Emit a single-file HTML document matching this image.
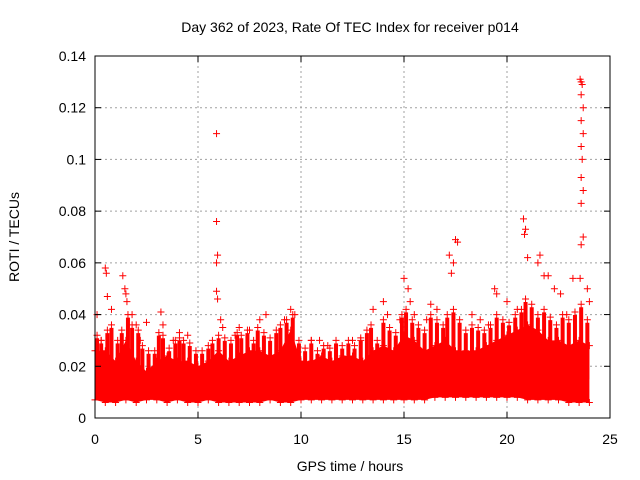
<!DOCTYPE html>
<html><head><meta charset="utf-8"><style>
body{margin:0;background:#fff}
svg{display:block;font-family:"Liberation Sans",sans-serif}
</style></head><body>
<svg id="chart" width="640" height="480" viewBox="0 0 640 480">
<text x="350" y="32" font-size="14" text-anchor="middle" fill="#000">Day 362 of 2023, Rate Of TEC Index for receiver p014</text>
<g id="grid"></g>
<g id="band"></g>
<g id="pts"></g>
<rect x="95" y="56" width="515" height="362" fill="none" stroke="#000" stroke-width="1"/>
<g id="axes"></g>
<text x="350" y="471" font-size="14" text-anchor="middle">GPS time / hours</text>
<text x="19" y="237" font-size="14" text-anchor="middle" transform="rotate(-90 19 237)">ROTI / TECUs</text>
</svg>
<script>
const xTicks=[0,5,10,15,20,25];
const yTicks=[0,0.02,0.04,0.06,0.08,0.1,0.12,0.14];
const yTickLabels=["0","0.02","0.04","0.06","0.08","0.1","0.12","0.14"];
const bandTimes=[0,0.5,1,1.5,2,2.5,3,3.5,4,4.5,5,5.5,6,6.5,7,7.5,8,8.5,9,9.5,10,10.5,11,11.5,12,12.5,13,13.5,14,14.5,15,15.5,16,16.5,17,17.5,18,18.5,19,19.5,20,20.5,21,21.5,22,22.5,23,23.5,24];
const bandLow=[0.007,0.006,0.006,0.007,0.006,0.007,0.007,0.006,0.007,0.006,0.006,0.007,0.006,0.006,0.006,0.006,0.006,0.007,0.006,0.006,0.007,0.007,0.007,0.007,0.007,0.007,0.007,0.007,0.007,0.007,0.007,0.007,0.007,0.008,0.008,0.008,0.008,0.008,0.008,0.008,0.008,0.008,0.007,0.007,0.007,0.007,0.006,0.006,0.006];
const bandHigh=[0.026,0.026,0.022,0.03,0.022,0.018,0.022,0.024,0.022,0.022,0.02,0.022,0.026,0.022,0.024,0.026,0.026,0.024,0.026,0.034,0.022,0.022,0.024,0.022,0.024,0.024,0.022,0.026,0.028,0.026,0.032,0.03,0.026,0.028,0.03,0.026,0.026,0.026,0.028,0.03,0.032,0.034,0.036,0.034,0.03,0.03,0.028,0.03,0.028];
const midTimes=[0.1,0.3,0.6,0.8,1.1,1.3,1.6,1.8,2.1,2.3,2.6,2.9,3.1,3.3,3.6,3.9,4.1,4.3,4.6,4.9,5.2,5.5,5.7,6.0,6.3,6.6,6.9,7.1,7.4,7.7,7.9,8.2,8.5,8.8,9.0,9.3,9.6,9.9,10.2,10.5,10.8,11.1,11.4,11.7,12.0,12.3,12.6,12.9,13.2,13.4,13.7,14.0,14.3,14.6,14.9,15.1,15.4,15.7,16.0,16.3,16.6,16.9,17.1,17.4,17.7,18.0,18.3,18.6,18.9,19.2,19.5,19.8,20.1,20.4,20.7,20.9,21.2,21.5,21.8,22.1,22.4,22.7,23.0,23.3,23.6,23.9];
const midValues=[0.032,0.03,0.034,0.036,0.03,0.034,0.04,0.036,0.034,0.028,0.026,0.026,0.033,0.032,0.027,0.03,0.031,0.03,0.029,0.026,0.026,0.028,0.03,0.032,0.031,0.03,0.033,0.032,0.034,0.03,0.035,0.033,0.031,0.034,0.036,0.038,0.04,0.03,0.027,0.03,0.026,0.028,0.027,0.03,0.028,0.03,0.028,0.031,0.034,0.036,0.03,0.038,0.035,0.033,0.04,0.042,0.038,0.036,0.034,0.04,0.038,0.036,0.04,0.042,0.038,0.034,0.036,0.035,0.034,0.036,0.04,0.038,0.037,0.04,0.042,0.046,0.044,0.04,0.042,0.039,0.036,0.04,0.038,0.041,0.044,0.038];
const spikeTimes=[0.1,0.5,0.55,0.6,0.8,1.35,1.45,1.5,1.55,1.8,2.0,2.5,3.2,3.3,4.1,4.5,5.9,5.9,5.95,5.9,5.9,5.95,6.2,6.1,7,7.5,8,8.3,9.2,9.5,9.7,10.5,11.3,12.5,13.5,14,14.2,14.8,15,15.2,15.3,15.5,16.3,16.6,17.2,17.3,17.4,17.5,17.6,18.3,18.7,19.4,19.5,20,20.5,20.8,20.85,20.9,21,21.5,21.6,21.8,22,22.3,22.6,23.2,23.55,23.6,23.65,23.6,23.7,23.6,23.7,23.6,23.65,23.6,23.7,23.6,23.7,23.6,23.55,23.9,24,0.3,2.2,3.8,6.8,10.9,12.9,16.1,19.1,22.9];
const spikeValues=[0.04,0.058,0.056,0.047,0.042,0.055,0.05,0.048,0.045,0.04,0.036,0.037,0.041,0.036,0.033,0.032,0.11,0.076,0.063,0.06,0.049,0.046,0.035,0.038,0.035,0.034,0.038,0.04,0.038,0.042,0.04,0.03,0.028,0.03,0.042,0.045,0.04,0.038,0.054,0.05,0.045,0.04,0.044,0.042,0.063,0.056,0.06,0.069,0.068,0.04,0.038,0.05,0.048,0.045,0.042,0.077,0.071,0.073,0.062,0.06,0.063,0.055,0.055,0.05,0.048,0.054,0.131,0.13,0.129,0.125,0.12,0.115,0.11,0.105,0.1,0.093,0.088,0.083,0.07,0.067,0.054,0.05,0.045,0.03,0.03,0.03,0.032,0.03,0.03,0.038,0.036,0.04];
const NS="http://www.w3.org/2000/svg";
const X0=95,X1=610,Y0=418,Y1=56;
const sx=v=>X0+(v-0)/(25-0)*(X1-X0);
const sy=v=>Y0-(v-0)/(0.14-0)*(Y0-Y1);
function mk(t,a,p){const e=document.createElementNS(NS,t);for(const k in a)e.setAttribute(k,a[k]);p.appendChild(e);return e;}
const grid=document.getElementById('grid'),axes=document.getElementById('axes');
xTicks.forEach(t=>{
 if(t>0&&t<25){const l=mk('line',{x1:sx(t),x2:sx(t),y1:Y0,y2:Y1,stroke:'#a0a0a0','stroke-dasharray':'2,3'},grid);}
 const tk=mk('line',{x1:sx(t),x2:sx(t),y1:Y0,y2:Y0-6,stroke:'#000'},axes);
 const tk2=mk('line',{x1:sx(t),x2:sx(t),y1:Y1,y2:Y1+6,stroke:'#000'},axes);
 const tx=mk('text',{x:sx(t),y:Y0+26,'font-size':14,'text-anchor':'middle'},axes);tx.textContent=String(t);
});
yTicks.forEach((t,i)=>{
 if(t>0&&t<0.14){const l=mk('line',{x1:X0,x2:X1,y1:sy(t),y2:sy(t),stroke:'#a0a0a0','stroke-dasharray':'2,3'},grid);}
 const tk=mk('line',{x1:X0,x2:X0+6,y1:sy(t),y2:sy(t),stroke:'#000'},axes);
 const tk2=mk('line',{x1:X1,x2:X1-6,y1:sy(t),y2:sy(t),stroke:'#000'},axes);
 const tx=mk('text',{x:X0-9,y:sy(t)+5,'font-size':14,'text-anchor':'end'},axes);tx.textContent=yTickLabels[i];
});
const band=document.getElementById('band');
let d='M'+bandTimes.map((t,i)=>sx(t)+','+sy(bandHigh[i])).join(' L');
for(let i=bandTimes.length-1;i>=0;i--)d+=' L'+sx(bandTimes[i])+','+sy(bandLow[i]);
const poly=mk('path',{d:d+'Z',fill:'#ff0000'},band);


const pts=document.getElementById('pts');
function plus(x,y,name){const p=mk('path',{d:`M${x-3.5},${y}H${x+3.5}M${x},${y-3.5}V${y+3.5}`,stroke:'#ff0000','stroke-width':1},pts);}
bandTimes.forEach((t,i)=>{plus(sx(t),sy(bandHigh[i]),'edge-point');plus(sx(t),sy(bandLow[i]),'edge-point');});
midTimes.forEach((t,i)=>{
 const x=sx(t),yTop=sy(midValues[i]);
 const ln=mk('line',{x1:x,x2:x,y1:yTop+3,y2:sy(0.015),stroke:'#ff0000','stroke-width':4},pts);
 
 
 plus(x,yTop,'mid-point');
});
spikeTimes.forEach((t,i)=>plus(sx(t),sy(spikeValues[i]),'roti-point'));
</script>
</body></html>
